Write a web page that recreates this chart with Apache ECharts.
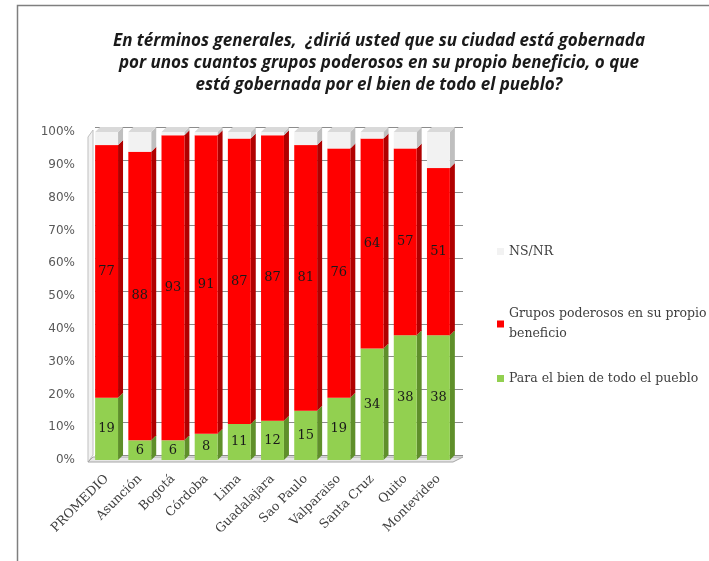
<!DOCTYPE html>
<html>
<head>
<meta charset="utf-8">
<script src="https://cdn.jsdelivr.net/npm/echarts@6/dist/echarts.min.js"></script>
<style>
  html, body { margin: 0; padding: 0; background: #fff; }
  #chart { width: 709px; height: 561px; }
</style>
</head>
<body>
<div id="chart"></div>
<script>
// datos (porcentajes)
const categorias = ['PROMEDIO', 'Asunción', 'Bogotá', 'Córdoba', 'Lima', 'Guadalajara',
  'Sao Paulo', 'Valparaiso', 'Santa Cruz', 'Quito', 'Montevideo'];
const bienPueblo = [19, 6, 6, 8, 11, 12, 15, 19, 34, 38, 38];
const gruposPoderosos = [77, 88, 93, 91, 87, 87, 81, 76, 64, 57, 51];
const nsnr = [4, 6, 1, 1, 2, 1, 4, 5, 2, 5, 11];
const yTicks = [0, 10, 20, 30, 40, 50, 60, 70, 80, 90, 100];

const NOMBRE_BIEN = 'Para el bien de todo el pueblo';
const NOMBRE_GRUPOS = 'Grupos poderosos en su propio beneficio';
const NOMBRE_NSNR = 'NS/NR';

const DEPTH = 5; // profundidad del efecto 3D
const serif = '"DejaVu Serif", "Liberation Serif", serif';

const myChart = echarts.init(document.getElementById('chart'));

// armar las pilas (base, tope) a partir de los arreglos
function stackData(values, bases) {
  return values.map((v, i) => [i, bases[i], bases[i] + v, v]);
}
const base0 = bienPueblo.map(() => 0);
const base1 = bienPueblo.slice();
const base2 = bienPueblo.map((v, i) => v + gruposPoderosos[i]);

function barRenderer(front, side, top, showLabel, isTop) {
  return function (params, api) {
    const i = api.value(0);
    const p0 = api.coord([i, api.value(1)]);
    const p1 = api.coord([i, api.value(2)]);
    const bw = api.size([1, 0])[0] * 0.69;
    const x = p0[0] - bw / 2;
    const children = [
      {
        type: 'polygon',
        shape: { points: [[x + bw, p1[1]], [x + bw + DEPTH, p1[1] - DEPTH], [x + bw + DEPTH, p0[1] - DEPTH], [x + bw, p0[1]]] },
        style: { fill: side }
      },
      {
        type: 'rect',
        shape: { x: x, y: p1[1], width: bw, height: p0[1] - p1[1] },
        style: { fill: front }
      }
    ];
    if (isTop) {
      children.push({
        type: 'polygon',
        shape: { points: [[x, p1[1]], [x + DEPTH, p1[1] - DEPTH], [x + bw + DEPTH, p1[1] - DEPTH], [x + bw, p1[1]]] },
        style: { fill: top }
      });
    }
    if (showLabel) {
      children.push({
        type: 'text',
        style: {
          text: String(api.value(3)),
          x: x + bw / 2,
          y: (p0[1] + p1[1]) / 2,
          align: 'center',
          verticalAlign: 'middle',
          fill: '#1a1a1a',
          font: '13px ' + serif
        }
      });
    }
    return { type: 'group', children: children };
  };
}

// paredes y piso del grafico 3D
function wallRenderer(params, api) {
  const cs = params.coordSys;
  const bottom = cs.y + cs.height;
  const right = cs.x + cs.width;
  return {
    type: 'group',
    children: [
      {
        type: 'polygon',
        shape: { points: [[cs.x - 2, cs.y + DEPTH], [cs.x + DEPTH - 2, cs.y - 2], [cs.x + DEPTH - 2, bottom - DEPTH], [cs.x - 2, bottom + 2]] },
        style: { fill: '#f2f2f2', stroke: '#bfbfbf', lineWidth: 1 }
      },
      {
        type: 'polygon',
        shape: { points: [[cs.x - 2, bottom + 2], [cs.x + DEPTH - 2, bottom - DEPTH + 2], [right + DEPTH + 3, bottom - DEPTH + 2], [right - 2, bottom + 2]] },
        style: { fill: '#e6e6e6', stroke: '#a6a6a6', lineWidth: 1 }
      }
    ]
  };
}

const option = {
  backgroundColor: '#fff',
  animation: false,
  title: {
    text: 'En términos generales,  ¿diriá usted que su ciudad está gobernada\npor unos cuantos grupos poderosos en su propio beneficio, o que\nestá gobernada por el bien de todo el pueblo?',
    left: 374,
    top: 25,
    textAlign: 'center',
    textStyle: {
      fontFamily: '"Open Sans"',
      fontWeight: 'bold',
      fontStyle: 'italic',
      fontSize: 17,
      lineHeight: 22,
      color: '#1a1a1a'
    }
  },
  legend: [
    {
      data: [NOMBRE_NSNR], left: 492, top: 240, orient: 'vertical',
      icon: 'rect', itemWidth: 7, itemHeight: 7,
      textStyle: { fontFamily: serif, fontSize: 12.5, color: '#404040' }
    },
    {
      data: [NOMBRE_GRUPOS], left: 492, top: 299, orient: 'vertical',
      icon: 'rect', itemWidth: 7, itemHeight: 7,
      formatter: () => 'Grupos poderosos en su propio\nbeneficio',
      textStyle: { fontFamily: serif, fontSize: 12.5, lineHeight: 20, color: '#404040' }
    },
    {
      data: [NOMBRE_BIEN], left: 492, top: 367, orient: 'vertical',
      icon: 'rect', itemWidth: 7, itemHeight: 7,
      textStyle: { fontFamily: serif, fontSize: 12.5, color: '#404040' }
    }
  ],
  grid: [
    { left: 90, right: 254, top: 132, bottom: 101 },
    // pared del fondo (desplazada por la profundidad)
    { left: 90 + DEPTH, right: 254 - DEPTH - 3, top: 132 - DEPTH, bottom: 101 + DEPTH }
  ],
  xAxis: [
    {
      type: 'category', gridIndex: 0, data: categorias,
      axisLine: { show: false }, axisTick: { show: false },
      axisLabel: {
        interval: 0, rotate: 45, margin: 17,
        fontFamily: serif, fontSize: 12.5, color: '#404040'
      }
    },
    { type: 'category', gridIndex: 1, data: categorias, show: false }
  ],
  yAxis: [
    {
      type: 'value', gridIndex: 0, min: 0, max: 100, interval: 10,
      axisLine: { show: false }, axisTick: { show: false }, splitLine: { show: false },
      axisLabel: {
        formatter: '{value}%', margin: 15,
        fontFamily: '"DejaVu Sans", sans-serif', fontSize: 12, color: '#595959'
      }
    },
    {
      type: 'value', gridIndex: 1, min: 0, max: 100, interval: 10,
      axisLine: { show: false }, axisTick: { show: false }, axisLabel: { show: false },
      splitLine: { show: true, lineStyle: { color: '#8c8c8c', width: 1 } }
    }
  ],
  series: [
    {
      name: 'pared', type: 'custom', xAxisIndex: 0, yAxisIndex: 0, z: 1,
      silent: true, renderItem: wallRenderer, data: [[0, 0]]
    },
    {
      name: NOMBRE_BIEN, type: 'custom', xAxisIndex: 0, yAxisIndex: 0, z: 3,
      itemStyle: { color: '#92d050' },
      encode: { x: 0, y: [1, 2] },
      renderItem: barRenderer('#92d050', '#5f8f2a', '#b5e08a', true, false),
      data: stackData(bienPueblo, base0)
    },
    {
      name: NOMBRE_GRUPOS, type: 'custom', xAxisIndex: 0, yAxisIndex: 0, z: 3,
      itemStyle: { color: '#ff0000' },
      encode: { x: 0, y: [1, 2] },
      renderItem: barRenderer('#ff0000', '#b00000', '#ff6060', true, false),
      data: stackData(gruposPoderosos, base1)
    },
    {
      name: NOMBRE_NSNR, type: 'custom', xAxisIndex: 0, yAxisIndex: 0, z: 3,
      itemStyle: { color: '#f2f2f2' },
      encode: { x: 0, y: [1, 2] },
      renderItem: barRenderer('#f2f2f2', '#bfbfbf', '#d9d9d9', false, true),
      data: stackData(nsnr, base2)
    }
  ],
  graphic: [
    {
      type: 'polyline', silent: true,
      shape: { points: [[17.5, 561], [17.5, 5.5], [709, 5.5]] },
      style: { stroke: '#7f7f7f', lineWidth: 1.5, fill: null }
    }
  ]
};

myChart.setOption(option);
</script>
</body>
</html>
